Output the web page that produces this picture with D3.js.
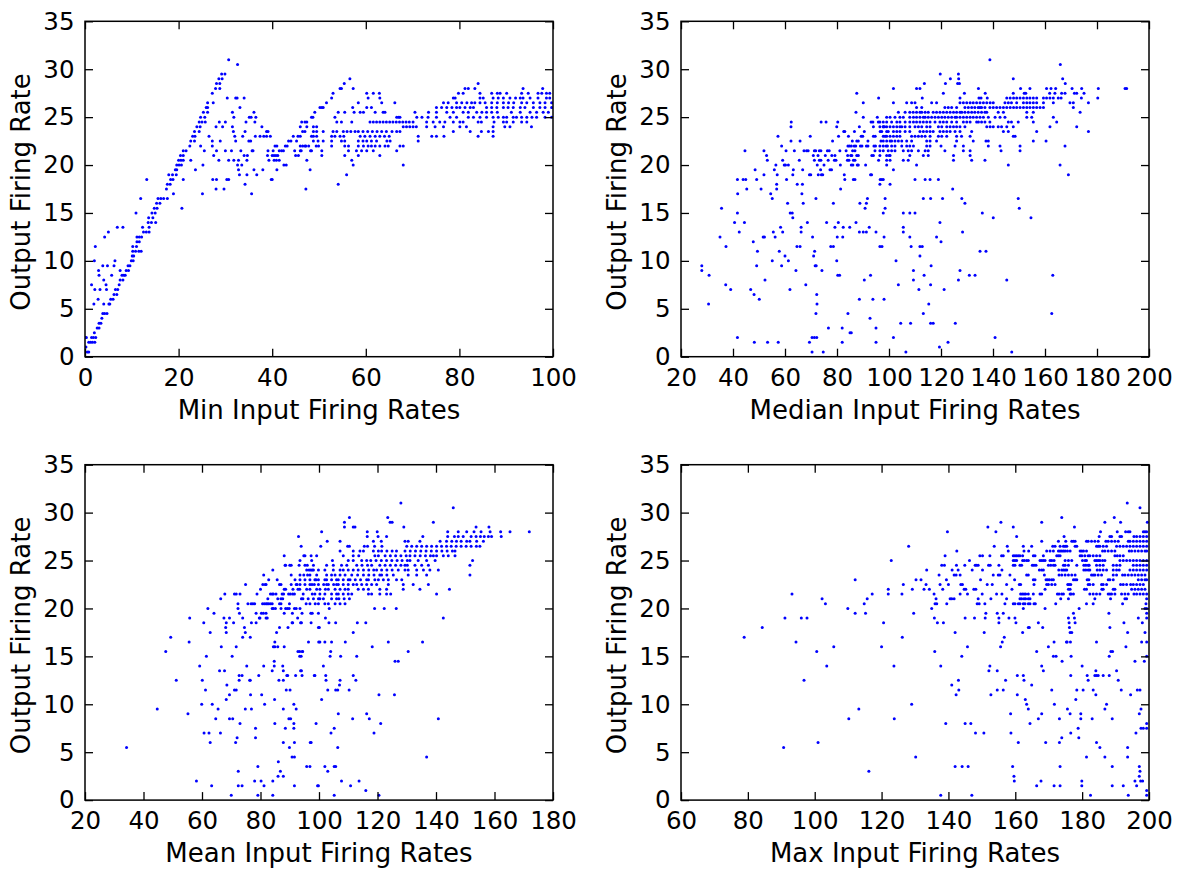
<!DOCTYPE html>
<html>
<head>
<meta charset="utf-8">
<script src="https://cdn.jsdelivr.net/npm/d3@7"></script>
<style>
  body { margin: 0; background: #fff; }
  text { font-family: "DejaVu Sans", sans-serif; }
</style>
</head>
<body>
<svg id="chart" width="1180" height="872"></svg>
<script>
// ---- data: [input rate, output rate] ----
const minDots = [
  [0,2],[0.2,1],[0.5,0.5],[0.8,0.5],[0.3,2],[0.8,1.5],[1.2,1.5],[1.6,1.5],[2.1,1.5],[1.4,2],[1.8,2],[2.3,2],[2,2.5],[2.6,3],[3,3],[3,3.5],[3.4,3.5],[3.6,4],[3.8,4.5],[4.2,4.5],[4.7,4.5],[5.3,5.5],[5.5,6],[6,6],[6.2,6.5],[6.8,6.5],[6.5,7],[7,7],[7.3,7.5],[7.5,8],[8.1,8],[7.9,8.5],[8.3,8.5],[8.6,8.5],[8.8,9],[9.3,9],[9.2,9.5],[9.6,9.5],[9.9,10],[10.3,10],[10.1,10.5],[10.4,10.5],[10.2,11],[10.8,11],[11.5,11],[12,11],[10.2,11.5],[11,11.5],[11.1,12],[11.6,12],[11.1,12.5],[11.6,12.5],[12.1,12.5],[12.5,13],[13.1,13],[13.7,13],[12.3,13.5],[13.7,13.5],[13.5,14],[14.2,14],[15.1,14],[13.6,14.5],[14.5,14.5],[14.3,15],[15,15],[14.8,15.5],[15.4,15.5],[15.3,16],[16,16],[15.6,16.5],[16.2,16.5],[16.8,16.5],[17.4,17.5],[17.6,18],[18.2,18],[18.3,18.5],[18.8,18.5],[17.9,19],[18.7,19],[19.5,19],[19.3,19.5],[19.6,19.5],[19.6,20],[20.1,20],[20.6,20],[20,20.5],[20.5,20.5],[21,20.5],[20.4,21],[21,21],[21,21.5],[21.6,21.5],[22.4,22],[22.6,22.5],[23.4,22.5],[23,23],[23.5,23],[23.4,23.5],[24.4,23.5],[23.9,24],[24.6,24],[24.4,24.5],[25,24.5],[25.7,24.5],[24.7,25],[25.6,25],[25.3,25.5],[26.2,25.5],[25.9,26],[26.2,26],[26.2,26.5],[27.4,26.5],[27.2,27.5],[27.9,28],[28.8,28],[28.1,28.5],[28.8,28.5],[28.6,29],[29.3,29],[29.2,29.5],[29.9,29.5],[30.7,31],[32.6,30.5],
  [1.4,7.5],[2,10],[2.2,11.5],[2.1,7],[1.9,5.5],[2.9,9],[3,8.5],[3.2,7],[2.8,6],[3.8,9.5],[4,8],[4.2,12.5],[4.5,7.5],[4.8,9.5],[5,13],[5.1,5.5],[4.6,7],[4,5.5],[6.4,10],[6.2,9.5],[5.7,8.5],[6.9,13.5],[8.1,13.5],[7.5,9],[10.9,15],[11.9,16.5],[13.2,18.5],[17.6,16.5],[18.9,17],[20.7,15.5],[21,18.5],[22.6,20.5],[23.6,19.5],
  [25.1,17],[25.2,20],[24.7,22],[25.5,21.5],[26.5,23],[27.2,22.5],[27.2,22],[27.5,21],[27.3,18.5],[28.1,18.5],[28,17.5],[28.1,21.5],[28,24],[28.7,24.5],[28.9,22.5],[28.6,20.5],[29.4,24],[29.7,17.5],[30,24.5],[30,21.5],[30.3,18.5],[30.7,18.5],[30.7,20.5],[30.4,27],[31.3,21.5],[31.5,24],[31.7,23.5],[31.5,25.5],[31.8,25],[32,23],[32.2,27],[32.5,27],[31.8,20.5],[32.2,22.5],[32.6,20],[32.8,20.5],[32.8,19.5],[33.1,26],[33.3,21.5],[33,19],[33.5,20],[33.7,23],[34,27],[34.2,23.5],[34,21],[34.2,18],[34.4,24.5],[34.6,20.5],[34.7,21],[34.6,19],[35,22.5],[35.1,25],[35.4,22.5],[35.5,25],[35.6,17],[35.7,21.5],[35.9,21.5],[36.1,25.5],[36.3,24.5],[36.1,19.5],[36.4,23],[36.5,25],[36.7,19],[37.4,23],[37.8,24],[38.2,23],[38,19.5],[38.8,23.5],[39.1,23.5],[38.8,23],[39,21],[39.1,21.5],[39.3,20.5],[39.6,23],[39.8,18.5],
  [40,21],[40.4,21],[40.8,21],[41.2,21],[40.2,21.5],[40.6,22],[41,22],[41.5,21.5],[42,21.5],[42.4,21.5],[42.8,22],[43.2,22],[40.4,20.5],[40.9,20.5],[41.5,20.5],[42.5,20],[43,20],[41,19.5],[40,18.5],[43.5,22.5],[44,22.5],[44.5,23],[45.2,22.5],[45,21],[45.6,21],[46,21.5],[45.5,23],[46,23],[46.5,23.5],[47,23.5],[46.5,22],[47,22],[44.8,21.5],[47.2,17.5],[48.1,19.5],[48.2,21.5],[47.8,22],[48.8,23],[49.4,22],
  [56.6,29],[55.4,28.5],[54.5,28],[54.8,28],[53,27.5],[52.7,27],[51.6,26.5],[50.9,26],[50.2,26],[50.6,26],[49.1,25.5],[48.7,25],[48.4,25],[47.4,24.5],[57.3,28],[57.2,26],[57.5,25.5],[58.4,26.5],[60.2,27.5],[61.6,27.5],[62.9,27.5],[60.5,27],[63,27],[63.4,26.5],[66.2,26.5],[60.2,26],[61.2,26],[62,25.5],[58.8,25.5],[59.5,25.5],[55.5,25.5],[54.1,25.5],[63.7,25.5],[64.1,25.5],[66.6,25],[67,25],[67.3,25],[70.5,25.5],[53.4,25],[53.8,24.5],[54.8,24.5],[57,24.5],[50.6,21],[55.5,21],[58.4,21],[63,21],[47.4,20.5],[57,20.5],[57.3,20],[68,20],[55.9,19],[54.1,18]
];
// rows of equal output rate: [output rate, [input rates]]
const minRows = [
  [28.5, [84]],
  [28, [81.2,81.9,83.3,93.6,97.8]],
  [27.5, [79.8,80.8,84.4,86.9,88.1,88.7,90.1,93.3,94.7,96.8,97.6,98.6,99.3]],
  [27, [78.7,79.1,84.4,85.1,87.2,88.3,89.4,90.8,92,93,93.6,95.1,96.8,98.6,99.3]],
  [26.5, [76.6,77.6,79.4,80.5,81.6,82.6,83.3,84.4,85.5,86.9,88.1,89.4,90.5,91.6,93.3,94.4,95.8,97.2,98.3,99.7]],
  [26, [75.1,76.2,77.3,78.4,79.4,80.1,81.2,82.3,83,85.8,86.9,88,89.4,90.4,91.5,93,94,95.8,97.2,98.3,99.7]],
  [25.5, [73.4,75.1,77.3,78.7,80.8,81.9,83.7,84.8,85.8,86.9,88.1,91.1,93,95.1,96.5,97.9,99]],
  [25, [70.9,72,73.3,75.1,78,79.4,81.9,83,84.4,85.8,87.2,88.3,89.4,90.1,91.5,92.2,93.3,94.4,95.5,96.5,98.3,99.7]],
  [24.5, [46.3,47,60.9,61.6,62.3,63,63.7,64.4,65.1,65.8,66.5,67.2,67.9,68.6,69.3,70.1,73,74.4,75.8,76.9,78.7,80.1,80.8,84,84.7,87.4,89.4,90.1,91.5,93.3,94.4]],
  [24, [46,47.4,48.8,49.5,68,68.7,69.4,70.1,70.8,73,74.8,76.6,80.1,81.5,87.2,89.7,90.8,95.4]],
  [23.5, [48.8,49.5,50.9,53,53.8,55.2,56,56.8,57.7,58.4,59.4,60.4,61.4,62.4,63.4,64.4,65.6,66.6,67.3,78.7,82.3,84.7,86.2,87.2]],
  [23, [48.4,49.5,52.7,53.4,54.5,55.3,58.8,59.8,60.9,62,63,64,65,71.2,74.1,75.1,76.7,84,87.2]],
  [22.5, [48.8,49.8,50.9,52.7,54.8,55.5,58.4,59.4,60.2,61.2,62.3,64.5,65.2,71.2]],
  [22, [46,47.2,49.9,52.7,55.5,56.3,58.4,59.5,60.5,61.2,62,63,64.1,64.8,67.3,68]],
  [21.5, [46.2,48.4,50.6,56.3,58,59.1,60.2,61.6,66.6]]
];

const medianDots = [
  [28,9.5],[28,9],[30.8,8.5],[30.6,5.5],[35,12.5],[35.6,15.5],[37.3,11.5],[37.2,7.5],[39.1,7],[40.6,14],[41.7,15],[41.7,18.5],[41.8,17],[42.4,13],[41.7,2],[43.9,18.5],[44.9,18.5],[44.6,21.5],[45.3,17.5],[44.4,14],[46.8,7],[47.8,12],[48.5,19.5],[49.1,18.5],[48.2,1.5],[48.1,6.5],[49.4,11],[49.1,9.5],[50.1,6],[50.8,17.5],[51.6,12.5],[52.1,12.5],[51.9,21.5],[51.9,19],[52.3,8],[52.9,21],[53.2,20.5],[53.3,1.5],[54.5,17],[55.1,16.5],[55.1,10],[55.5,13],[56.2,12.5],[55.9,19.5],[56.5,20],[56.8,18],[56.8,17.5],[57,19],[57.3,23],[57.4,1.5],[57.8,11],[58.3,13.5],[58.7,22],[59.1,20.5],[59.1,13],[58.7,9.5],[59.7,20],[60.2,20],[60,10.5],[60.4,21.5],[60.6,18.5],[61,16],[61.3,10],[61.3,20],[62,15],[62.8,15],[62.3,22.5],[62.3,24],[62.4,24.5],[63,14.5],[61.9,7],[63,19],[63.2,19.5],[63.6,21.5],[64.2,9],[64.7,18],[64.6,11.5],[65.8,11.5],[65.5,20.5],[65.8,22.5],[66.2,13],[66.2,13.5],[66.5,17],[66.7,18],[66.8,19.5],[67,16],[67.3,21.5],[68,7.5],[68.3,21.5],[68.9,21.5],[68.6,14],[69.4,19],[69.9,19],[69.7,23],[69.4,1.5],[70.4,0.5],[70.4,2],[71.3,2],[72.2,2],[70.6,12.5],[71,10.5],[71.3,20.5],[70.9,21],[71.3,21.5],[71.8,21.5],[71.4,11],[71.6,9.5],[72,9.5],[71.9,16.5],[71.9,4.5],[72.2,6.5],[72.3,5.5],[72.4,20],[72.7,21],[72.8,19],[73.2,20.5],[73.8,20.5],[73.2,21.5],[73.8,21.5],[73.7,19.5],[74,19],[74.5,19],[73.9,24.5],[74.2,9],[74.7,0.5],[75,20],[75.8,24.5],[75.5,21],[76,14],[76.3,21.5],[77,21.5],[76.7,3],[76.6,20.5],[77.3,19.5],[77.9,19.5],[77.6,11.5],[78.6,11.5],[78,21],[78.3,22.5],[78.6,16],[79,20.5],[79.6,20.5],[79.2,21],[79.2,13.5],[79.9,24],[79.9,10],[80.3,8.5],[81,8.5],[80.1,12.5],[80.3,24.5],[80.5,14],[80.6,23],[81.1,21.5],[81.3,20],[81.4,17.5],[82,3],[82,1.5],[82.2,12.5],[82.6,23.5],[83,23.5],[82.4,13.5],[82.8,19],[83,18.5],[83.5,21.5],[84.2,22],[84.8,22],[85.5,22],[84,20.5],[84.6,20.5],[84.1,21],[84.2,4.5],[84.4,23],[85,2.5],[85.5,2.5],[84.9,13.5],[85.3,21],[85.7,21],[85.5,20],[86.1,20],[85.9,22.5],[86.6,22],[87.2,22],[86,21.5],[86.9,21.5],[86.3,20.5],[86.9,20.5],[86.3,18.5],[86.9,18.5],[86.7,23.5],[87.3,14],[87.6,27.5],[87.3,25.5],[87.6,22.5],[88.2,22.5],[87.6,21],[88.2,21],[87.8,20],[88.2,20],[88.6,24],[88.6,6],[88.8,16],[88.6,13],[89,22],[89.6,22],[89.3,23],[89.9,23],[90.1,26.5],[90.1,25],[90.1,13],[91.3,13],[90.5,8],[90.5,23.5],[90.8,15.5],[91,20],[91.3,16],[91.7,16.5],[91.3,22],[91.9,22],[91.9,22.5],[92.4,13.5],[92.7,4],[92.9,8.5],[92.9,19],[93.3,19],[93.1,24.5],[93.8,24.5],[93.4,21],[94,21],[93.8,6],[94,24],[94,23],[94.7,23],[94.2,22],[94.8,22],[94.6,21.5],[95,3],[95,1.5],[95,13],[95.5,25],[95.9,24.5],[96,27],[96,20.5],[96.6,23.5],[97.2,23.5],[96.6,18.5],[97.2,18.5],[96.9,22.5],[97.3,11.5],[97.8,24],[98.3,24],[97.8,23],[98.5,23],[98.1,6],[98.1,12.5],[98.5,16.5],[98.9,22],[99.4,22],[99.1,20],[99.7,21.5],[100.1,21],
  [138.8,31],[165.9,30.5],[119.7,29.5],[126.7,29.5],[126.8,29],[126.4,28.5],[127.1,28.5],[123.6,29],[121.7,28.5],[113.6,28.5],[147.8,29],[166.8,29],[167.8,28.5],
  [101.7,19.5],[169,19],[96.5,18],[100.4,18],[124.5,17.5],[129.2,16],[98.5,15.5],[150.1,15.5],[140.1,14.5],[154.6,14.5],[119.6,14],[105.5,13.5],[105.5,13],[128.3,13],[108,12.5],[118.3,12.5],[120,12],[96.5,11.5],[108.5,11.5],[111.9,11.5],[112.8,11.5],[135,11],[137.3,11],[111.9,10.5],[102.7,10],[116.2,9.5],[109.4,9],[127.3,9],[113.5,8.5],[130.9,8.5],[133.1,8.5],[163,8.5],[109.4,8],[126.7,8],[145.3,8],[103.6,7.5],[116,7.5],[111.5,7],[121.2,7],[115.3,5.5],[113.2,4.5],[162.6,4.5],[101.7,2],[140.8,2],[122.7,1.5],[119.4,1],[106.5,0.5],[147.2,0.5]
];
const medianRows = [
  [28, [101.7,110.6,111.9,134.4,150.6,154.2,160.6,162.3,164.1,170.4,174.1,180.5,190.8,191.4]],
  [27.5, [120.9,129,137,147.8,152,152.6,161.8,163.8,166.4,167.7,171.3,172.2,175]],
  [27, [112.8,127.3,134.6,135.4,137.8,145.3,146.6,147.9,149.1,150.4,151.7,153,154.2,155.5,156.8,159.4,160.6,161.9,163.2,165.1,166.2,174,180.3]],
  [26.5, [101.7,106.8,108.7,110,116.4,118.3,127.3,128.6,129.9,131.2,132.4,133.7,135,136.3,137.6,138.9,140.1,144.6,145.9,147.1,149.1,151.7,153,154.2,155.5,156.8,159.4,163.2,169.6,170.9,176.7]],
  [26, [110.6,112.6,121.5,122.8,124.1,126,129.2,130.5,131.8,133,134.3,135,135.6,136.9,138.8,140.1,141.4,142.7,144,145.3,146.6,147.9,149.1,150.4,151.7,153,154.2,155.5,156.8,158.1,159.4,170.9]],
  [25.5, [103.6,106.2,108,109.3,110.6,111.9,112.6,113.9,115.1,117,118.3,119.6,120.9,122.2,123.5,124.8,126,127.3,128,129.2,130.5,131.8,133,134.3,135.6,136.9,137.6,142,144,153,155.5,173.5]],
  [25, [99.1,100.4,102.3,104.2,105.5,108,109.4,110.6,111.9,113.2,113.9,115.1,116.4,117.7,119,120.3,121.5,122.8,124.1,125.4,126,127.3,128.6,129.9,131.2,132.4,133.7,135,136.3,138.2,140.8,142.7,144.6,153,154.9,163.2]],
  [24.5, [96.5,97.8,99.1,101,103,104.2,106.2,108,109.4,110.6,111.9,113.2,114.5,115.8,117.7,119.6,120.9,122.2,124.1,126,128.6,129.9,131.2,133.7,134.4,135.6,136.9,138.8,145.9,147.1,149.7,155.5,164.5]],
  [24, [96.5,97.8,99.1,100.4,101.7,103,104.2,104.9,106.2,108,110,111.3,112.6,114.5,115.8,119,120.3,122.2,123.5,124.8,126,127.3,129.2,137.6,138.9,140.1,142,143.3,145.3,147.8,161.9,172.2]],
  [23.5, [99.1,99.7,101.7,103,104.2,106.2,108,111.9,113.2,114.5,115.8,117,119.6,120.9,122.2,123.5,125.4,127.3,131.8,144,145.9,156.8,176.7]],
  [23, [99.1,100.4,101.7,103,104.2,108.7,110,111.3,112.6,113.9,115.8,119,120.3,122.2,126,127.9,131.2,147.8,148.5]],
  [22.5, [97.8,99.1,100.4,101,102.3,103.6,104.9,106.8,108.7,114.5,115.8,118.3,126,132.4,137.3,138.2,155.5,160.4]],
  [22, [96.5,97.8,101,102.3,104.9,106.8,108,109.4,114.5,115.8,120,125.4,128.6,138.2,142.7,150.4,167.7]],
  [21.5, [96.5,97.8,101,102.3,105.5,107.4,108.7,111.3,113.9,115.1,121.5,128.6,131.2,143.1,150.4]],
  [21, [96.5,99.1,100.4,108,113.2,115.1,124.8,131.2]],
  [20.5, [99.1,100.4,105.5,107.4,124.8,131.8,136.9]],
  [20, [110.6,145.9,165.8]],
  [18.5, [97.8,110,113.9,115.8,119]],
  [16.5, [113.2,116,120.6,128,149.7]],
  [15, [97.8,105.5,108,110,135.9]],
  [3.5, [104.5,108.3,116,117,125.5]]
];

const meanDots = [
  [34.2,5.5],[44.7,9.5],[47.6,15.5],[49.3,17],[51.2,12.5],[55.2,9],[55.6,16.5],[55.8,19],[58.1,2],[59.2,14],[59.9,10],[60.1,12.5],[60.6,18.5],[60.7,7],[61.2,11.5],[61.5,15],[62,20],[62.4,7],[62.8,17.5],[62.8,6],[63.3,1.5],[63.5,10],[64.1,19.5],[64.7,8.5],[65.5,9.5],[66,13.5],[66.3,7],[66.4,21],[66.6,16],[67.8,21.5],[67.7,13.5],[67.5,19],[68.1,18],[68.3,18.5],[68.3,17.5],[68.5,12],[68.3,10.5],[69.4,19],[69.4,11],[69.4,8.5],[70.5,8.5],[70,0.5],[70.3,15],[70.8,18.5],[71.1,21.5],[71.7,21.5],[71.1,11.5],[71.7,11.5],[71.5,6],[71.7,16],[72,6.5],[72.3,20],[72.3,20.5],[72.4,3],[72.4,1.5],[72.7,12.5],[72.7,13],[72.8,19.5],[73,21.5],[73,8],[73.7,13],[73.7,1.5],[73.9,19],[73.9,17],[74.5,18],[74.8,17.5],[74.8,9.5],[74.9,22.5],[75.3,14],[75.7,20.5],[76.8,20.5],[76.3,12.5],[76.5,12.5],[76.5,17],[76.6,11],[76.9,9.5],[76.9,18.5],[77.4,20.5],[78,20.5],[78,2],[78.3,7.5],[78.3,6.5],[78.5,19.5],[78.5,18.5],[78.8,21.5],[79.1,3.5],[79.1,0.5],[79.4,13],[79.6,19],[79.8,19],[80,22],[80.2,2],[80.4,11],[80.3,19.5],[81,19.5],[81.9,19.5],[80.7,20.5],[81.3,20.5],[81.9,20.5],[80.8,22.5],[81.1,23.5],[81.2,1.5],[81.1,14],[81.4,10],[81.6,22.5],[81.9,22.5],[81.9,19],[82.3,19],[82.3,20.5],[82.8,20.5],[82.5,21],[82.8,23],[83.4,21.5],[84,21.5],[84.4,21.5],[83.4,20.5],[84,20.5],[84,20],[84.4,20],[85.1,20],[84,13.5],[84.2,2],[84.2,0.5],[84.2,24],[84.4,16],[84.9,16],[84.7,14],[84.7,14.5],[84.9,16.5],[84.8,10.5],[84.9,8],[85.3,21.5],[85.9,21],[85.5,17.5],[85.7,23],[85.9,16],[86,2.5],[86.1,4],[86.3,12.5],[86.5,18],[86.5,20.5],[87,20.5],[86.5,22.5],[87,22.5],[86.8,3],[87,20],[87,21],[87.6,21],[87.4,21.5],[87.9,21.5],[87.6,14],[87.8,2.5],[87.8,9.5],[87.8,6],[87.8,12.5],[87.8,13.5],[88.1,22],[88.6,22],[88.1,19.5],[88.1,16],[88.1,25.5],[88.4,24.5],[88.6,24.5],[88.5,7.5],[88.6,20],[89.2,20],[89.8,20],[88.8,11.5],[89,13],[89.3,13],[89.4,18],[89.6,21.5],[90.2,21.5],[89.9,20.5],[89.7,8.5],[90.3,8.5],[89.9,5.5],[90,24.5],[90.5,24.5],[90.1,11.5],[90.5,23.5],[90.5,22.5],[90.8,18.5],[91,18.5],[90.8,4.5],[91.6,4.5],[90.9,19.5],[91,21.5],[91.6,21.5],[91.1,22],[91.4,8],[91.4,7.5],[91.4,10],[91.6,1.5],[91.6,20],[92.2,20],[91.6,6],[91.8,23],[92,13],[92.2,9.5],[92.2,22.5],[92.5,22.5],[92.8,22],[93.4,22],[92.7,19],[93,27.5],[93.9,26.5],[93.2,24.5],[92.8,15.5],[93.4,15.5],[93.9,15],[93.4,15],[94,13.5],[94.2,13],[94,21],[94.5,21],[94,18.5],[94.8,23.5],[94.2,19.5],[94.4,15.5],[95.6,20.5],[96.1,23.5],[96.6,24],[97.2,24],[97.7,24],[97.7,21.5],[96.4,16.5],[97,6],[97.3,25.5],[97.5,25],[97.2,19.5],[97.6,22.5],[98.4,22.5],[98.4,13],[98.7,20.5],[99,23],[99.5,1.5],[99.8,18],[99.8,21],[99.9,16.5],
  [128,31],[145.9,30.5],[110.4,29.5],[123.5,29.5],[108.7,29],[124.3,29],[125,29],[139.1,29],[108.7,28.5],[111.7,28.5],[112.3,28.5],[129,28.5],[153.7,28.5],[158.1,28.5],
  [97.7,19.5],[99.8,19.5],[102.2,19],[142.5,19],[100.1,18],[111.7,17.5],[118.2,16],[94.3,15.5],[104,15.5],[130.5,15.5],[126,14.5],[127.1,14.5],[101.5,14],[93.7,13.5],[98.6,13],[102.3,13],[111.7,13],[102.4,12.5],[107.2,12.5],[112.6,12.5],[107,12],[103,11.5],[105.7,11.5],[106.4,11.5],[110.3,11.5],[120.5,11],[125.8,11],[100.9,10.5],[106.6,9],[116.3,9],[111.5,8.5],[117.2,8.5],[140.8,8.5],[99,8],[121.1,8],[105.2,7.5],[104.1,7],[118.8,7],[97.3,6],[106.4,5.5],[136.8,4.5],[103,3],[107.7,2],[113.7,2],[99.8,1.5],[110.8,1.5],[116,1],[105.2,0.5],[120.5,0.5]
];
const meanRows = [
  [28, [100.9,116.5,119.9,144,147.6,150.5,153,155.4,158.5,162.1,165.3,171.9]],
  [27.5, [116.5,120.2,123.1,135.5,144,146.3,147.6,149.3,152,153.7,155.2,156.5,157.9,159,162.3]],
  [27, [102.8,107.2,118.6,121.3,129.4,130.5,134.5,141.4,143.6,145.4,147,148.6,150.5,151.6,153.9,156.2]],
  [26.5, [100.6,109.8,110.4,115.5,116.6,119,121.5,130,131.7,133.4,135.1,136.8,138.5,140.2,141.9,143.6,145.2,146.9,148.6,150.3,152,153.8,155]],
  [26, [107.2,111.7,114,115.2,118.6,120.3,121.4,123.2,125,126.5,129.4,131.2,133,134.8,136.6,138.4,140.2,142,143.8,145.6,146.5]],
  [25.5, [94.8,95.2,99.2,108.3,111.7,113.6,119.1,120.3,122.6,124.4,126.2,128,129.8,131.1,132.8,134.6,136.4,138.1,139.1,140.2,142.5,144.2,146.5]],
  [25, [93.5,104.6,110,111.7,114.6,116.3,117.7,119.5,121.3,123.1,124.9,126.7,128.4,130.2,131.1,133.9,136.8,139.7,152.5]],
  [24.5, [95.2,96,98.1,102.6,104.9,107.7,109.5,112.9,114.7,116.6,118,120.8,122.6,124.4,126.2,128,129.4,130.2,132.8,135.1,137.4,151.6]],
  [24, [95.8,98.1,99.8,102,104.9,107.2,108.3,110,111.7,113.4,115.2,117,118.7,119.7,121.4,123.2,125,127.1,129.4,130.5,133.4,135.7,137.9,140.8]],
  [23.5, [93.5,96.9,99.2,102.6,104.3,105.5,107.2,108.9,111.2,113.2,115.2,117,118.8,120.8,121.4,123.2,125.4,130.5,133.4,136.8,151.6]],
  [23, [93.5,95.2,96.9,98.6,99.8,102,102.6,104.3,106,106.6,108.3,110,110.6,112.4,114.2,116.3,116.9,119.1,120.3,122,123.7,126.5,128.3]],
  [22.5, [93.5,95.2,96.9,99.8,101.6,102.6,103.2,105,106,106.6,108.3,110,111.7,112.9,114.6,116.3,118,119.7,123.7,128.8,132.2,137.4]],
  [22, [95.8,96.9,99.2,100.3,102.2,103.2,105.5,107.2,108.9,110,113.4,115.2,116.9,120.8,123.1,128.8,134.5,144.6]],
  [21.5, [94.6,98.6,100.3,102,104.3,106,106.6,108.3,110,111.2,116.9,118,120.8,123.1,124.5,140.2]],
  [21, [96.3,98.1,100.3,101.5,104.3,106,106.8,108.6,110.4]],
  [20.5, [96.9,99.8,102,103.2,105.5,107.2,108.9]],
  [20, [93.5,103.5,119,122.3,126.4]],
  [18.5, [93.7,97.3,103.4,105.7,113.1,116]],
  [16.5, [100.3,102,104.3,109,123.7,135.4]],
  [15, [103.8,107.4,112.9]],
  [3.5, [95.8,96.9,102,105.2,105.7]]
];

const maxRows = [
  [31, [193.5]],
  [30.5, [197.3]],
  [29.5, [173.9,189.6]],
  [29, [155.7,167.9,186.8,191.5,199.5]],
  [28.5, [151.8,159.4,177.7]],
  [28, [139.7,154.2,185.5,190.5,193,193.8,194.3,198.3,198.8,199.3]],
  [27.5, [160.4,174.6,185.1,188.3,188.8,191.3,191.8,195.5,196.3,197.3,198.3,199.3]],
  [27, [167.9,172.9,175.1,176.9,177.4,177.9,181.3,181.8,182.8,183.8,184.8,187.1,187.8,188.8,189.8,190.8,193.8,194.3,195.3,196.3,197.3,198.3,199.3]],
  [26.5, [128.1,153.7,157.6,162.4,164.9,171.2,171.9,173.4,174.4,174.9,175.4,177.9,178.4,184.3,184.8,185.3,186.3,187.3,190.3,191.3,192.3,193.3,194.3,195.3,196.3,197.3,198.3,199.3]],
  [26, [142.5,157.9,162.6,164,169.4,170.4,171.4,172.9,173.4,173.9,174.4,174.9,175.6,176.4,179.4,179.9,180.4,181.3,186.1,186.8,187.8,188.8,189.8,194.1,194.8,195.8,196.8,197.8,198.8,199.3]],
  [25.5, [139,149.4,150.2,152.4,155.9,156.4,159.4,159.9,160.4,160.9,161.4,162.2,165.4,165.9,168.4,172.4,172.9,173.4,179.4,179.9,180.8,181.8,182.3,183.3,184.3,185.3,189.8,190.5,191.3,192.3]],
  [25, [122.9,146.3,159.4,159.9,160.4,162.2,162.7,163.4,163.9,167.4,167.9,168.4,168.9,170.4,170.9,171.6,174.9,175.9,176.9,180.1,180.9,181.3,183.8,184.3,184.8,185.3,186.1,186.8,191.3,192.3,193.3,194.3,195.3,196.3,197.3,198.3,199.3]],
  [24.5, [138,138.8,142.4,144.9,148,148.4,148.9,152,152.5,155.1,159.4,159.9,161.4,161.9,165.1,165.6,166.2,169.9,170.6,171.4,171.9,174.4,174.9,175.9,178.4,180.5,181.1,181.8,182.1,184.3,185.3,186.3,189.3,190.3,191.3,195.3,196.3,197.3,198.3,199.3]],
  [24, [133.5,141.1,142.9,147.1,150.2,156,167.2,167.9,168.4,173,173.9,174.4,174.9,175.4,180.5,181.1,181.8,182.3,184.5,185.3,186.3,187.3,189.3,190.3,191.1,194.3,195.3,196.3,197.3,198.3,199.3]],
  [23.5, [137.2,141.7,142.3,143.5,153.4,154.9,155.4,158.4,163.4,163.9,168.7,173.1,173.9,174.9,175.9,176.9,177.9,182.8,183.3,183.8,184.8,185.8,189.3,190.3,192.1,192.8,193.8,194.8,195.8,196.8,197.8,198.8]],
  [23, [112.1,130.3,131.8,139.4,149.6,159.8,165.4,165.9,169.2,169.7,170.2,170.9,171.4,177.4,177.9,178.4,181.5,182,187.8,188.3,189.3,196.8,197.8,198.8,199.3]],
  [22.5, [126.5,133.3,137.5,140,143.7,144.2,151.6,153.1,157.4,161.2,161.6,165.6,169.4,169.9,170.9,171.9,175.7,176.1,176.6,181.8,182.3,183.3,185.8,186.3,187.3,191.5,192.3,193.3,194.5,195.3,196.3,197.3,198.3]],
  [22, [122,129.2,132.7,134.3,138.3,144.7,145.2,147.6,148.2,159,168.9,175.9,176.4,180.7,181.3,185.9,186.3,189.3,189.8,194.8,195.8,196.8,197.8,198.8]],
  [21.5, [93.2,117.2,122,126.1,135.7,143.5,145.7,150.1,154.4,156,161.6,162.1,162.6,163.1,163.9,165.4,167.4,167.9,172.6,173.1,173.9,174.4,176.4,176.7,177.4,182.3,183.3,184.3,185.3,187.8,188.3,188.8,189.8,191.8,192.8,193.8,195.5,196.3,197.3,198.3,199.3]],
  [21, [102.2,115.7,136.3,140.5,141,141.7,148.9,152.7,157.4,161.4,161.9,162.6,163.1,163.9,164.4,173.6,175.9,183.8,188.5,192.8,193.3,199.3]],
  [20.5, [103.2,114.8,136,136.5,139.5,148.6,149.2,150.9,156.9,159.4,159.9,160.9,161.4,162.4,162.9,163.9,164.4,165.6,166,172.1,181.3,183.3,192.1,199.1]],
  [20, [109.9,135,162.4,168.9,179.1,198.8,199.3]],
  [19.5, [112.1,115.2,129.6,151.2,154.6,156.4,177.4,188,199.3]],
  [19, [91.1,96,97.7,135.8,145,147.8,151,155.1,158.1,159.9,175.9,177.7,196.8,199.3]],
  [18.5, [120.6,136.7,138.5,155.1,160.2,166.9,176.1,177.9,192.5,198]],
  [18, [84.3,163.9,164.2,168.2,176.2,188.3]],
  [17.5, [142,150.7,162.2,176.4,176.9,193.6,198.8]],
  [17, [78.9,126.2,156.7]],
  [16.5, [94.4,156.1,171.6,175.3,175.5,176.5,184.3,197.8,199.3]],
  [16, [105.7,120,145.7,155.6,169.9,193.1]],
  [15.5, [100.6,135.9,166.4,188.6,189.1]],
  [15, [144,171.4,172.2,176.7,188.1,199.3]],
  [14.5, [174,195.8,198.6]],
  [14, [103.6,123.7,137.7,152.4,167.9,180]],
  [13.5, [152.1,154.6,168.4,184.1,190.3]],
  [13, [160.6,162.4,176.6,181.5,183.8,184.3,184.8,186.3,188.1]],
  [12.5, [96.8,143,157.1,162.6,181.8,190.8]],
  [12, [141,164.9]],
  [11.5, [143.1,154.6,156.4,170.9,178.4,180.3,183.3,191.7,196.5,197.3]],
  [11, [142.3,152.7,160.6,184.1,194.5]],
  [10.5, [163,178.1]],
  [10, [129,163.4,171.7,187.3]],
  [9.5, [113.2,163.9,175.6,186.8,197.6]],
  [9, [158.6,167.9,176.4,179.6,197.1]],
  [8.5, [110.2,123.8,166.9,173.2,179.6,183,189]],
  [8, [139.2,145,146.7,164.4,199.3]],
  [7.5, [178.8,197.6,198.3,199.3]],
  [7, [148.1,150.6,158.7,176.6,196.1]],
  [6.5, [173.9,179]],
  [6, [101,160.9,169.1,173.2,184.3]],
  [5.5, [90.7,185.3,193.6]],
  [4.5, [130.2,181.3,186.8,193.6]],
  [3.5, [142,144.1,145.9,159.2,173.4,189,197.1]],
  [3, [116.2,197.3]],
  [2.5, [159.6,197.1]],
  [2, [159.7,167.7,179.9,195.8,197.5,198.1]],
  [1.5, [166.4,171.6,173.4,179.9,189,192.3,196.3]],
  [1, [199.3]],
  [0.5, [137.7,147,182.5,193.8,199.3]]
];

// axis definitions
const yDomain = [0, 35];
const yTickValues = [0, 5, 10, 15, 20, 25, 30, 35];
const xDomains = [[0, 100], [20, 200], [20, 180], [60, 200]];
const xTickValues = [
  [0, 20, 40, 60, 80, 100],
  [20, 40, 60, 80, 100, 120, 140, 160, 180, 200],
  [20, 40, 60, 80, 100, 120, 140, 160, 180],
  [60, 80, 100, 120, 140, 160, 180, 200]
];
const xLabels = ["Min Input Firing Rates", "Median Input Firing Rates", "Mean Input Firing Rates", "Max Input Firing Rates"];
const yLabel = "Output Firing Rate";

const fromRows = rows => rows.flatMap(([y, xs]) => xs.map(x => [x, y]));
const series = [
  minDots.concat(fromRows(minRows)),
  medianDots.concat(fromRows(medianRows)),
  meanDots.concat(fromRows(meanRows)),
  fromRows(maxRows)
];

// layout
const W = 468, H = 335.4;
const origins = [[85, 21.3], [681, 21.3], [85, 464.7], [681, 464.7]];
const tickFont = 24.5;
const labelFont = 26;

const svg = d3.select("#chart");
svg.append("rect").attr("width", 1180).attr("height", 872).attr("fill", "#fff");

series.forEach((pts, i) => {
  const [ox, oy] = origins[i];
  const g = svg.append("g").attr("transform", `translate(${ox},${oy})`);
  const x = d3.scaleLinear().domain(xDomains[i]).range([0, W]);
  const y = d3.scaleLinear().domain(yDomain).range([H, 0]);

  g.append("clipPath").attr("id", `clip-${i}`)
    .append("rect").attr("width", W).attr("height", H);

  g.append("g").attr("clip-path", `url(#clip-${i})`)
    .selectAll("circle").data(pts).join("circle")
    .attr("cx", d => x(d[0]))
    .attr("cy", d => y(d[1]))
    .attr("r", 1.5)
    .attr("fill", "#0000ff");

  // ticks pointing inward on all four sides
  const styleAxis = sel => {
    sel.select(".domain").remove();
    sel.selectAll(".tick line").attr("stroke", "#000").attr("stroke-width", 1.3);
    sel.selectAll("text").attr("font-family", "DejaVu Sans, sans-serif")
      .attr("font-size", tickFont).attr("fill", "#000");
  };
  g.append("g").attr("transform", `translate(0,${H})`)
    .call(d3.axisBottom(x).tickValues(xTickValues[i]).tickSizeInner(-8).tickSizeOuter(0).tickPadding(12).tickFormat(d3.format("d")))
    .call(styleAxis);
  g.append("g")
    .call(d3.axisTop(x).tickValues(xTickValues[i]).tickSizeInner(-8).tickSizeOuter(0).tickFormat(""))
    .call(styleAxis);
  g.append("g")
    .call(d3.axisLeft(y).tickValues(yTickValues).tickSizeInner(-8).tickSizeOuter(0).tickPadding(10.5).tickFormat(d3.format("d")))
    .call(styleAxis);
  g.append("g").attr("transform", `translate(${W},0)`)
    .call(d3.axisRight(y).tickValues(yTickValues).tickSizeInner(-8).tickSizeOuter(0).tickFormat(""))
    .call(styleAxis);

  // frame on top of the points
  g.append("rect").attr("width", W).attr("height", H)
    .attr("fill", "none").attr("stroke", "#000").attr("stroke-width", 1.5);

  g.append("text")
    .attr("x", W / 2).attr("y", H + 62)
    .attr("text-anchor", "middle")
    .attr("font-size", labelFont)
    .text(xLabels[i]);

  g.append("text")
    .attr("transform", `translate(-55.5,${H / 2 + 3}) rotate(-90)`)
    .attr("text-anchor", "middle")
    .attr("font-size", labelFont)
    .text(yLabel);
});
</script>
</body>
</html>
